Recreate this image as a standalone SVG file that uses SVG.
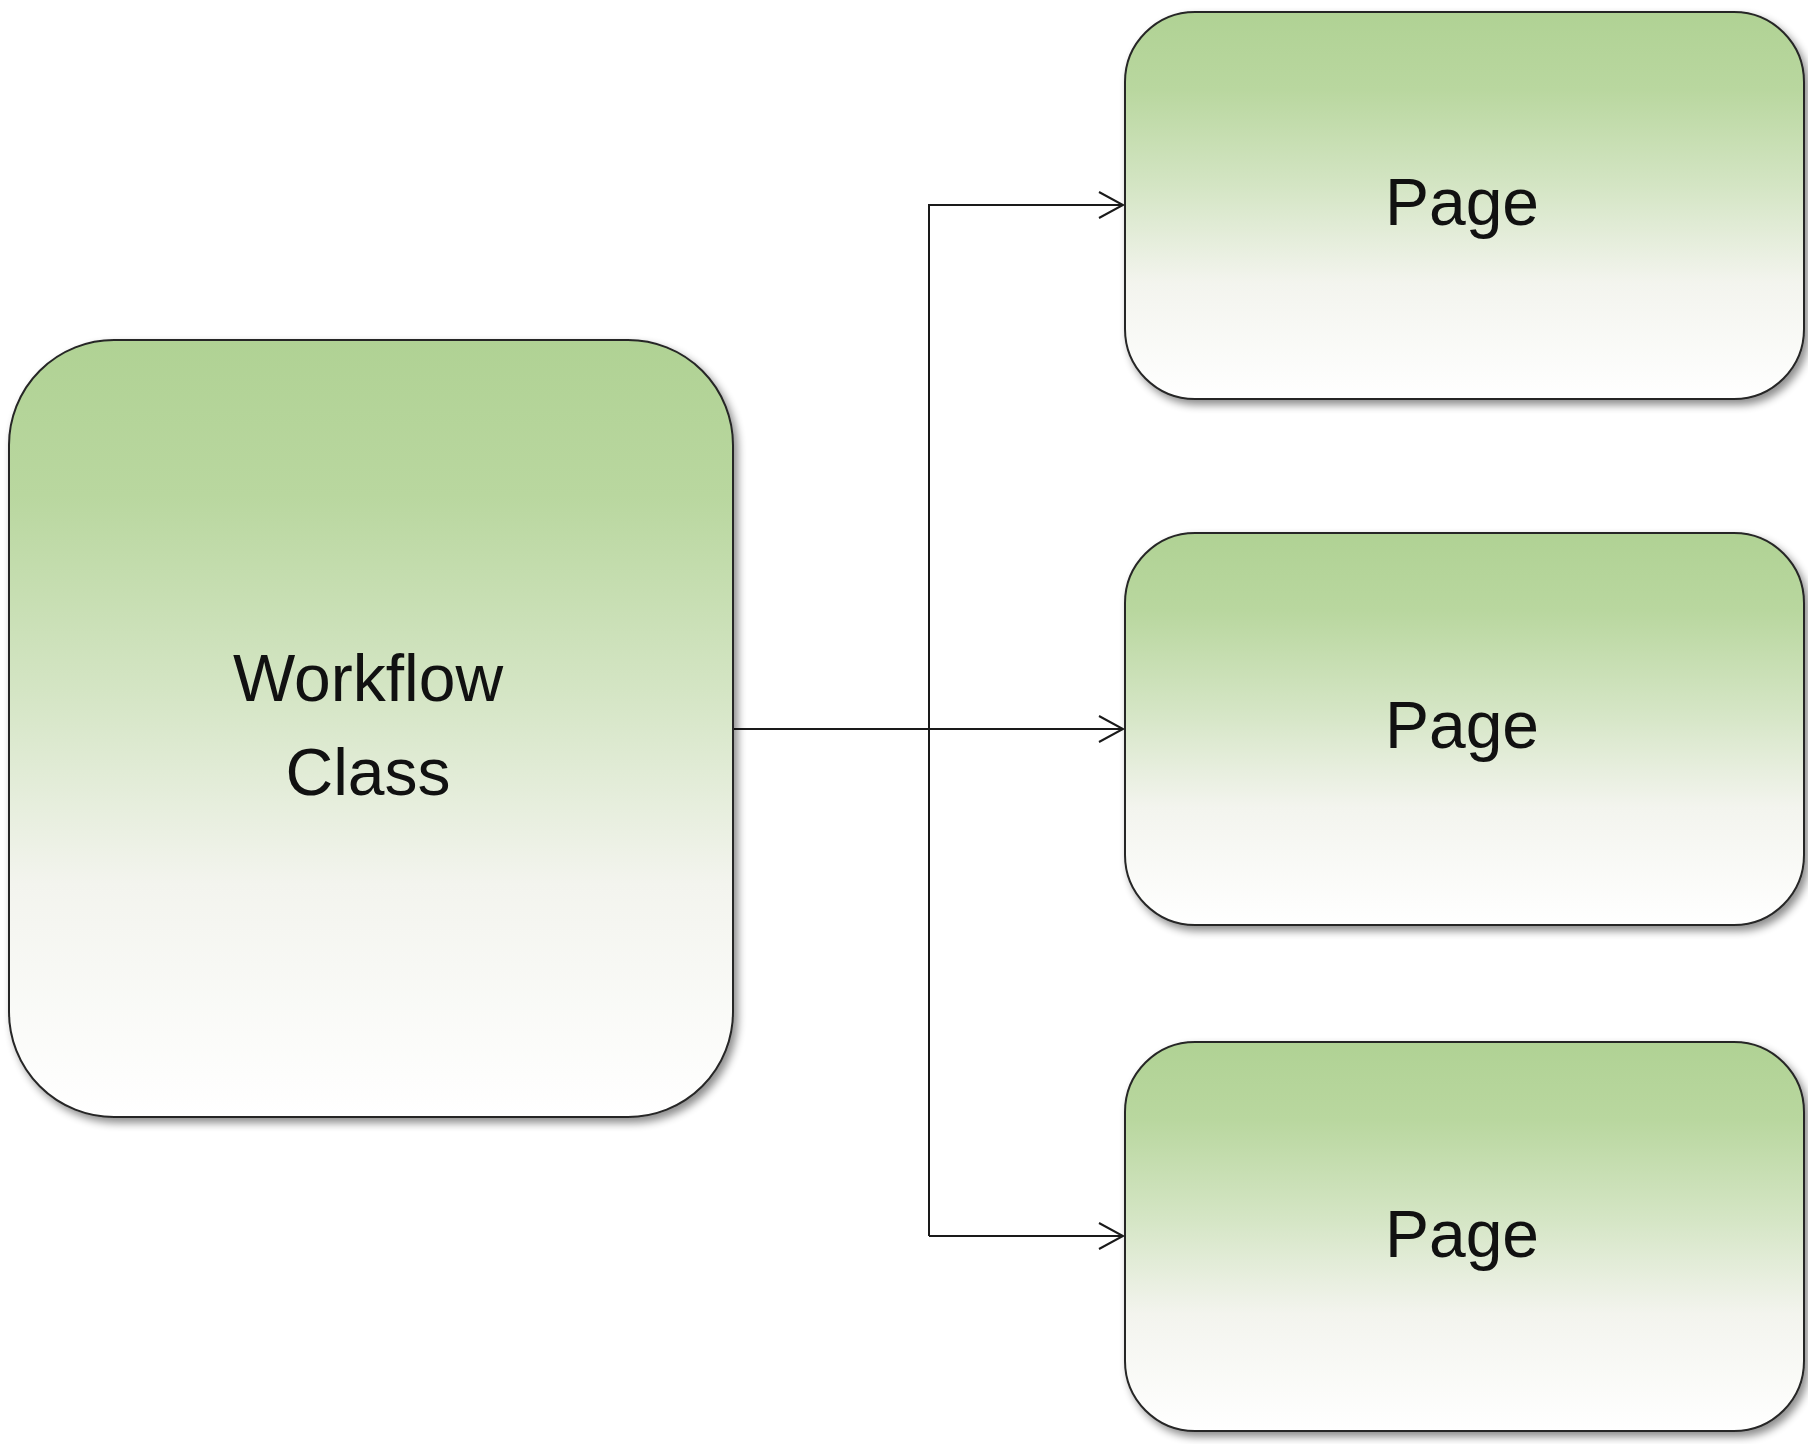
<svg xmlns="http://www.w3.org/2000/svg" width="1808" height="1444" viewBox="0 0 1808 1444">
<style>
.box{stroke:#262626;stroke-width:2;fill:url(#g);filter:url(#sh)}
.lbl{font-family:"Liberation Sans",Arial,sans-serif;font-size:66px;fill:#111;text-anchor:middle}
.con{stroke:#1a1a1a;stroke-width:2;fill:none}
</style>
<defs>
<linearGradient id="g" x1="0" y1="0" x2="0" y2="1">
<stop offset="0" stop-color="#b0d294"/>
<stop offset="0.2" stop-color="#b9d79f"/>
<stop offset="0.45" stop-color="#d4e5c4"/>
<stop offset="0.7" stop-color="#f3f4ee"/>
<stop offset="1" stop-color="#ffffff"/>
</linearGradient>
<filter id="sh" x="-5%" y="-5%" width="115%" height="115%">
<feGaussianBlur in="SourceAlpha" stdDeviation="4"/>
<feOffset dx="4" dy="5" result="b"/>
<feComponentTransfer><feFuncA type="linear" slope="0.45"/></feComponentTransfer>
<feMerge><feMergeNode/><feMergeNode in="SourceGraphic"/></feMerge>
</filter>
<marker id="arr" markerWidth="30" markerHeight="30" refX="25" refY="14" orient="auto" markerUnits="userSpaceOnUse">
<path d="M1,1 L25,14 L1,27" fill="none" stroke="#1a1a1a" stroke-width="2"/>
</marker>
</defs>
<rect width="1808" height="1444" fill="#ffffff"/>
<g id="connectors">
<path class="con" d="M733,729 L1123,729" marker-end="url(#arr)"/>
<path class="con" d="M929,1236 L929,205 L1123,205" marker-end="url(#arr)"/>
<path class="con" d="M929,1236 L1123,1236" marker-end="url(#arr)"/>
</g>
<g id="workflow">
<rect class="box" x="9" y="340" width="724" height="777" rx="105" ry="105"/>
<text class="lbl" x="368" y="701">Workflow</text>
<text class="lbl" x="368" y="795">Class</text>
</g>
<g id="page1">
<rect class="box" x="1125" y="12" width="679" height="387" rx="70" ry="70"/>
<text class="lbl" x="1462" y="225">Page</text>
</g>
<g id="page2">
<rect class="box" x="1125" y="533" width="679" height="392" rx="70" ry="70"/>
<text class="lbl" x="1462" y="748">Page</text>
</g>
<g id="page3">
<rect class="box" x="1125" y="1042" width="679" height="389" rx="70" ry="70"/>
<text class="lbl" x="1462" y="1257">Page</text>
</g>
</svg>
